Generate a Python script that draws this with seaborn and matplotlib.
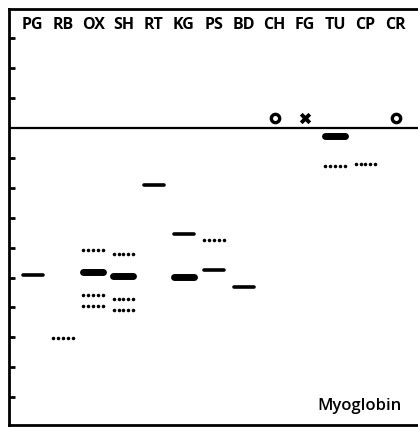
import numpy as np
import pandas as pd
import matplotlib
matplotlib.use("Agg")
import matplotlib.pyplot as plt
import seaborn as sns

# species lanes (left to right)
species = ["PG", "RB", "OX", "SH", "RT", "KG", "PS", "BD", "CH", "FG", "TU", "CP", "CR"]

# band positions (mobility units, origin = 0, negative = below origin)
band_species = ["PG", "RB", "OX", "OX", "OX", "OX", "SH", "SH", "SH", "SH",
                "RT", "KG", "KG", "PS", "PS", "BD", "TU", "TU", "CP"]
band_pos = [-4.92, -7.02, -4.08, -4.82, -5.59, -5.95, -4.21, -4.95, -5.72, -6.09,
            -1.91, -3.55, -4.98, -3.75, -4.75, -5.32, -0.27, -1.27, -1.20]
# band kind: solid, thick (strong) or dotted (faint)
band_kind = ["solid", "dotted", "dotted", "thick", "dotted", "dotted", "dotted", "thick", "dotted", "dotted",
             "solid", "solid", "thick", "dotted", "solid", "solid", "thick", "dotted", "dotted"]

# samples that stayed at the origin
origin_species = ["CH", "FG", "CR"]
origin_mark = ["o", "x", "o"]
origin_pos = [0.33, 0.33, 0.33]

yticks = [3, 2, 1, -1, -2, -3, -4, -5, -6, -7, -8, -9]

sns.set_style("white")
plt.rcParams['font.family'] = ['Open Sans', 'DejaVu Sans']
plt.rcParams['text.color'] = 'black'

bands = pd.DataFrame({"species": band_species, "pos": band_pos, "kind": band_kind})
bands["x"] = bands["species"].map({s: i for i, s in enumerate(species)})

fig = plt.figure(figsize=(4.18, 4.29), dpi=100)
ax = fig.add_axes([9 / 418, 4 / 429, 409 / 418, 416 / 429])

half = 0.33
styles = {"solid": 2.6, "thick": 5.0}
for kind, lw in styles.items():
    sub = bands[bands["kind"] == kind]
    ax.hlines(sub["pos"], sub["x"] - half, sub["x"] + half, color="black",
              linewidth=lw, capstyle="round")

# faint bands drawn as rows of five dots
dots = bands[bands["kind"] == "dotted"]
offs = np.linspace(-0.32, 0.32, 5)
dx = np.concatenate([row.x + offs for row in dots.itertuples()])
dy = np.repeat(dots["pos"].values, 5)
ax.scatter(dx, dy, s=6.5, color="black", linewidths=0)

orig = pd.DataFrame({"species": origin_species, "pos": origin_pos, "mark": origin_mark})
orig["x"] = orig["species"].map({s: i for i, s in enumerate(species)})
circ = orig[orig["mark"] == "o"]
ax.scatter(circ["x"], circ["pos"], s=36, facecolors="white", edgecolors="black", linewidths=2.4)
crs = orig[orig["mark"] == "x"]
ax.scatter(crs["x"], crs["pos"], s=38, marker="x", color="black", linewidths=2.8)

# origin line
ax.axhline(0, color="black", linewidth=1.6)

for i, s in enumerate(species):
    ax.text(i, 3.44, s, ha="center", va="center", fontsize=11.5, fontweight="bold", color="black")

ax.text(10.8, -9.3, "Myoglobin", ha="center", va="center", fontsize=12,
        fontweight="semibold", color="black")

ax.set_xlim(-0.78, 12.74)
ax.set_ylim(-9.93, 3.98)
ax.set_xticks([])
ax.set_yticks(yticks)
ax.set_yticklabels([])
ax.tick_params(axis="y", direction="in", length=4, width=2, left=True, color="black")
for side in ["left", "bottom", "top"]:
    ax.spines[side].set_color("black")
    ax.spines[side].set_linewidth(2)
ax.spines["right"].set_visible(False)

fig.savefig("out.png", dpi=100)
